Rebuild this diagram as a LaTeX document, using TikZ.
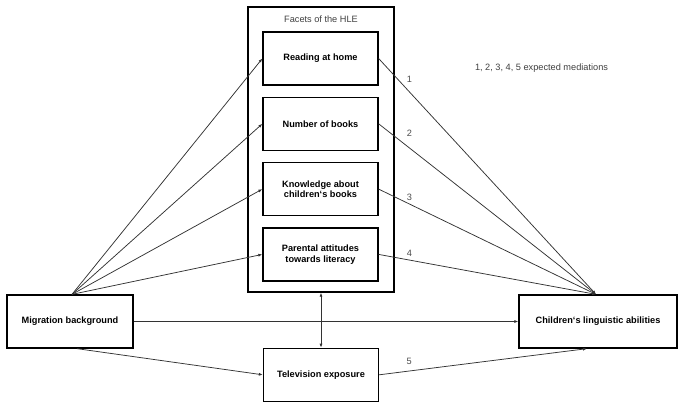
\documentclass[tikz,border=0pt]{standalone}
\usepackage{fontspec}
\setmainfont{Liberation Sans}
\usetikzlibrary{arrows.meta, positioning}

\begin{document}
\begin{tikzpicture}[
    x=1pt, y=-1pt,
    node distance=11pt and 2cm,
    box/.style={rectangle, draw, line width=1.3pt, minimum width=115pt, minimum height=53pt, align=center, font=\fontsize{9.2}{10.5}\selectfont\bfseries},
    arrow/.style={-{Latex[length=4pt, width=3pt]}, black!80, line width=.75pt},
    num/.style={inner sep=0pt, text=black!70, font=\fontsize{9.2}{10.5}\selectfont}
]
\useasboundingbox (0,0) rectangle (685,408);

\node[box, minimum width=146pt, minimum height=285pt] (hle) at (321,149.5) {};
\node[below=9pt of hle.north, inner sep=0pt, text=black!75, font=\fontsize{9.2}{10.5}\selectfont] (title) {Facets of the HLE};

\node[box] (read) at (320.5,58.5) {Reading at home};
\node[box, below=of read] (books) {Number of books};
\node[box, below=of books] (know) {Knowledge about\\children‘s books};
\node[box, below=of know] (attit) {Parental attitudes\\towards literacy};
\node[box, below=55pt of hle] (tv) {Television exposure};

\node[box, minimum width=126pt] (mig) at (70,321.5) {Migration background};
\node[box, minimum width=158pt] (child) at (598,321.5) {Children‘s linguistic abilities};

\node[num, text=black!75] (legend) at (541.5,68) {1, 2, 3, 4, 5 expected mediations};

\foreach \n in {read, books, know, attit}
    \draw[arrow] ([xshift=2pt]mig.north) -- (\n.west);
\draw[arrow] ([xshift=7pt]mig.south) -- (tv.west);
\draw[arrow] (mig.east) -- (child.west);

\draw[arrow] (read.east) -- ([xshift=-2pt]child.north) node[num, pos=.142, above=9.5pt] {1};
\draw[arrow] (books.east) -- ([xshift=-2pt]child.north) node[num, pos=.142, above=11.5pt] {2};
\draw[arrow] (know.east) -- ([xshift=-2pt]child.north) node[num, pos=.142, above=3pt] {3};
\draw[arrow] (attit.east) -- ([xshift=-2pt]child.north) node[num, pos=.142, above=3.5pt] {4};
\draw[arrow] (tv.east) -- ([xshift=-11pt]child.south) node[num, pos=.144, above=6.5pt] {5};

\draw[{Latex[length=4pt, width=3pt]}-{Latex[length=4pt, width=3pt]}, black!80, line width=.75pt] (hle.south) -- (tv.north);

\end{tikzpicture}
\end{document}
